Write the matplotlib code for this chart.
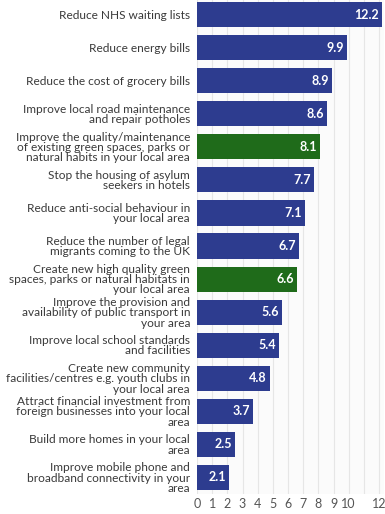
import matplotlib.pyplot as plt

# priorities and their scores
labels = [
    "Reduce NHS waiting lists",
    "Reduce energy bills",
    "Reduce the cost of grocery bills",
    "Improve local road maintenance\nand repair potholes",
    "Improve the quality/maintenance\nof existing green spaces, parks or\nnatural habits in your local area",
    "Stop the housing of asylum\nseekers in hotels",
    "Reduce anti-social behaviour in\nyour local area",
    "Reduce the number of legal\nmigrants coming to the UK",
    "Create new high quality green\nspaces, parks or natural habitats in\nyour local area",
    "Improve the provision and\navailability of public transport in\nyour area",
    "Improve local school standards\nand facilities",
    "Create new community\nfacilities/centres e.g. youth clubs in\nyour local area",
    "Attract financial investment from\nforeign businesses into your local\narea",
    "Build more homes in your local\narea",
    "Improve mobile phone and\nbroadband connectivity in your\narea",
]
values = [12.2, 9.9, 8.9, 8.6, 8.1, 7.7, 7.1, 6.7, 6.6, 5.6, 5.4, 4.8, 3.7, 2.5, 2.1]
green = [False, False, False, False, True, False, False, False, True,
         False, False, False, False, False, False]
xticks = [0, 1, 2, 3, 4, 5, 6, 7, 8, 9, 10, 12]

plt.rcParams['font.family'] = ['Lato', 'DejaVu Sans']

fig = plt.figure(figsize=(3.85, 5.14), dpi=100)
ax = fig.add_axes([197 / 385, 1 - 494 / 514, 186.6 / 385, 494 / 514])

colors = ['#1f6b1a' if g else '#2d3c8f' for g in green]
ypos = list(range(len(values)))
ax.barh(ypos, values, height=0.76, color=colors, zorder=2)

for y, v in zip(ypos, values):
    ax.text(v - 0.2, y, f"{v:.1f}", ha='right', va='center', color='white',
            fontsize=9, fontweight='bold', zorder=3)

ax.set_xlim(0, 12.3)
ax.set_ylim(14.5, -0.44)
ax.set_yticks(ypos)
ax.set_yticklabels(labels, fontsize=8.6, color='#3a3a3a', linespacing=0.92)
ax.set_xticks(range(0, 13))
ax.set_xticklabels([str(t) if t in xticks else "" for t in range(0, 13)],
                   fontsize=9, color='#555555')
ax.tick_params(axis='both', length=0)
ax.tick_params(axis='y', pad=5)
ax.tick_params(axis='x', pad=3)
ax.grid(axis='x', color='#e6e6e6', linewidth=0.8, zorder=0)
ax.set_facecolor('#fbfbfb')
for s in ax.spines.values():
    s.set_visible(False)

fig.savefig('out.png', dpi=100)
